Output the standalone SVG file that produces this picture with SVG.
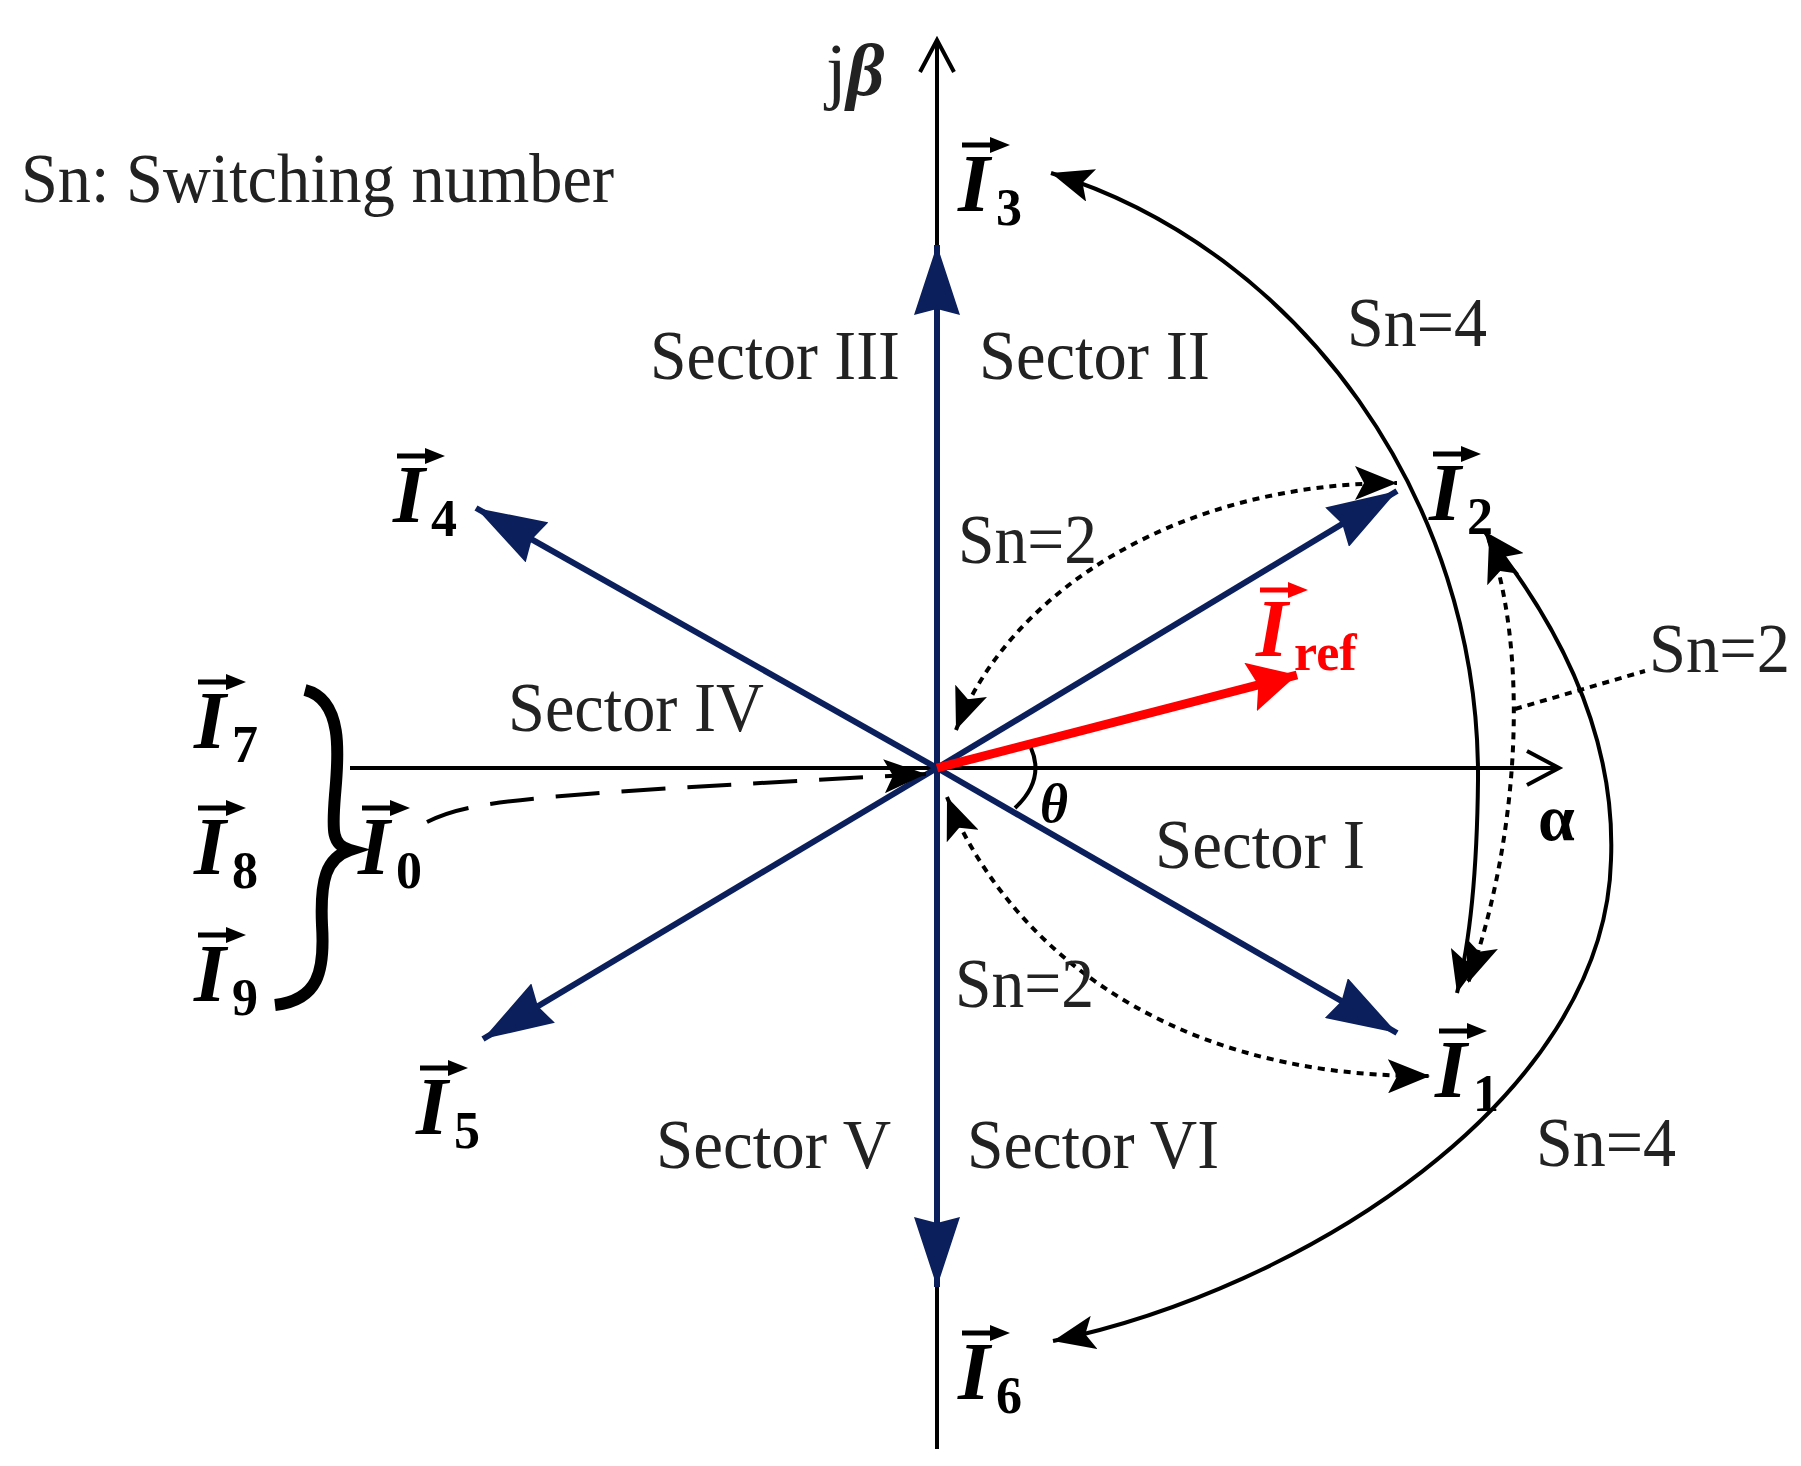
<svg xmlns="http://www.w3.org/2000/svg" width="1801" height="1466" viewBox="0 0 1801 1466">
<style>
.t{font-family:"Liberation Serif",serif;font-size:70px;fill:#222}
.v{font-family:"Liberation Serif",serif;font-size:82px;font-weight:bold;font-style:italic;fill:#000}
.s{font-family:"Liberation Serif",serif;font-size:52px;font-weight:bold;fill:#000}
.blue{stroke:#0a1f5c;stroke-width:6;fill:none}
.blk{stroke:#000;stroke-width:4;fill:none}
.dot{stroke:#000;stroke-width:4;fill:none;stroke-dasharray:7 6}
</style>
<defs>
<marker id="bh" markerUnits="userSpaceOnUse" markerWidth="72" markerHeight="46" refX="70" refY="23" orient="auto"><path d="M0,0 L70,23 L0,46 L6,23 z" fill="#0a1f5c"/></marker>
<marker id="kh" markerUnits="userSpaceOnUse" markerWidth="44" markerHeight="34" refX="42" refY="17" orient="auto-start-reverse"><path d="M0,0 L42,17 L0,34 L9,17 z" fill="#000"/></marker>
<marker id="rh" markerUnits="userSpaceOnUse" markerWidth="50" markerHeight="50" refX="48" refY="25" orient="auto"><path d="M0,0 L48,25 L0,50 L8,25 z" fill="#f00"/></marker>
<g id="acc"><line x1="4" y1="-66" x2="36" y2="-66" stroke="#000" stroke-width="5"/><path d="M32,-74 L52,-66 L32,-58 z" fill="#000"/></g>
<g id="accr"><line x1="4" y1="-66" x2="36" y2="-66" stroke="#f00" stroke-width="5"/><path d="M32,-74 L52,-66 L32,-58 z" fill="#f00"/></g>
</defs>
<g id="axes">
<line x1="937" y1="42" x2="937" y2="1449" stroke="#000" stroke-width="4"/>
<polyline points="920,72 937,40 954,72" class="blk"/>
<line x1="350" y1="768" x2="1557" y2="768" stroke="#000" stroke-width="4"/>
<polyline points="1527,751 1559,768 1527,785" class="blk"/>
<text x="826" y="95" class="t" style="font-size:74px;font-style:italic"><tspan style="font-style:normal">j</tspan><tspan font-weight="bold">β</tspan></text>
<text x="1538" y="840" class="s" style="font-size:66px">α</text>
</g>
<g id="connectors">
<line x1="937" y1="768" x2="937" y2="245" class="blue" marker-end="url(#bh)"/>
<line x1="937" y1="768" x2="937" y2="1287" class="blue" marker-end="url(#bh)"/>
<line x1="937" y1="768" x2="1397" y2="491" class="blue" marker-end="url(#bh)"/>
<line x1="937" y1="768" x2="1397" y2="1033" class="blue" marker-end="url(#bh)"/>
<line x1="937" y1="768" x2="476" y2="508" class="blue" marker-end="url(#bh)"/>
<line x1="937" y1="768" x2="483" y2="1039" class="blue" marker-end="url(#bh)"/>
<line x1="937" y1="768" x2="1297" y2="675" stroke="#f00" stroke-width="9" marker-end="url(#rh)"/>
<path d="M1051,173 C1300,250 1480,500 1478,780 C1477,880 1468,950 1457,993" class="blk" marker-start="url(#kh)" marker-end="url(#kh)"/>
<path d="M1484,531 C1580,650 1615,760 1611,860 C1605,1100 1300,1290 1053,1341" class="blk" marker-start="url(#kh)" marker-end="url(#kh)"/>
<path d="M956,730 C1010,590 1180,483 1397,483" class="dot" marker-start="url(#kh)" marker-end="url(#kh)"/>
<path d="M947,797 C1000,930 1150,1078 1430,1076" class="dot" marker-start="url(#kh)" marker-end="url(#kh)"/>
<path d="M1489,540 C1525,640 1525,820 1468,983" class="dot" marker-start="url(#kh)" marker-end="url(#kh)"/>
<line x1="1515" y1="709" x2="1645" y2="671" class="dot"/>
<path d="M427,822 C470,800 530,795 926,774" stroke="#000" stroke-width="4" fill="none" stroke-dasharray="44 22" marker-end="url(#kh)"/>
<path d="M1031,748 Q1045,780 1015,808" class="blk"/>
<path d="M305,690 C345,700 338,760 335,795 C332,832 332,845 350,850 C326,858 320,880 322,925 C325,972 318,1000 275,1005" stroke="#000" stroke-width="12" fill="none"/>
</g>
<g id="labels">
<text x="21" y="202" class="t" textLength="593" lengthAdjust="spacingAndGlyphs">Sn: Switching number</text>
<text x="650" y="379" class="t" textLength="250" lengthAdjust="spacingAndGlyphs">Sector III</text>
<text x="979" y="379" class="t" textLength="231" lengthAdjust="spacingAndGlyphs">Sector II</text>
<text x="508" y="731" class="t" textLength="256" lengthAdjust="spacingAndGlyphs">Sector IV</text>
<text x="1155" y="868" class="t" textLength="210" lengthAdjust="spacingAndGlyphs">Sector I</text>
<text x="656" y="1168" class="t" textLength="235" lengthAdjust="spacingAndGlyphs">Sector V</text>
<text x="967" y="1168" class="t" textLength="252" lengthAdjust="spacingAndGlyphs">Sector VI</text>
<text x="1347" y="346" class="t" textLength="140" lengthAdjust="spacingAndGlyphs">Sn=4</text>
<text x="958" y="563" class="t" textLength="139" lengthAdjust="spacingAndGlyphs">Sn=2</text>
<text x="1649" y="672" class="t" textLength="141" lengthAdjust="spacingAndGlyphs">Sn=2</text>
<text x="955" y="1007" class="t" textLength="139" lengthAdjust="spacingAndGlyphs">Sn=2</text>
<text x="1536" y="1166" class="t" textLength="140" lengthAdjust="spacingAndGlyphs">Sn=4</text>
<text x="1040" y="822" class="v" style="font-size:54px">θ</text>
</g>
<g id="I3" transform="translate(958,211)"><use href="#acc"/><text class="v">I</text><text x="38" y="14" class="s">3</text></g>
<g id="I4" transform="translate(393,522)"><use href="#acc"/><text class="v">I</text><text x="38" y="14" class="s">4</text></g>
<g id="I2" transform="translate(1429,520)"><use href="#acc"/><text class="v">I</text><text x="38" y="14" class="s">2</text></g>
<g id="I1" transform="translate(1435,1097)"><use href="#acc"/><text class="v">I</text><text x="38" y="14" class="s">1</text></g>
<g id="I5" transform="translate(416,1134)"><use href="#acc"/><text class="v">I</text><text x="38" y="14" class="s">5</text></g>
<g id="I6" transform="translate(958,1399)"><use href="#acc"/><text class="v">I</text><text x="38" y="14" class="s">6</text></g>
<g id="I7" transform="translate(194,748)"><use href="#acc"/><text class="v">I</text><text x="38" y="14" class="s">7</text></g>
<g id="I8" transform="translate(194,874)"><use href="#acc"/><text class="v">I</text><text x="38" y="14" class="s">8</text></g>
<g id="I9" transform="translate(194,1001)"><use href="#acc"/><text class="v">I</text><text x="38" y="14" class="s">9</text></g>
<g id="I0" transform="translate(358,874)"><use href="#acc"/><text class="v">I</text><text x="38" y="14" class="s">0</text></g>
<g id="Iref" transform="translate(1256,656)"><use href="#accr"/><text class="v" style="fill:#f00">I</text><text x="38" y="14" class="s" style="fill:#f00">ref</text></g>
</svg>
